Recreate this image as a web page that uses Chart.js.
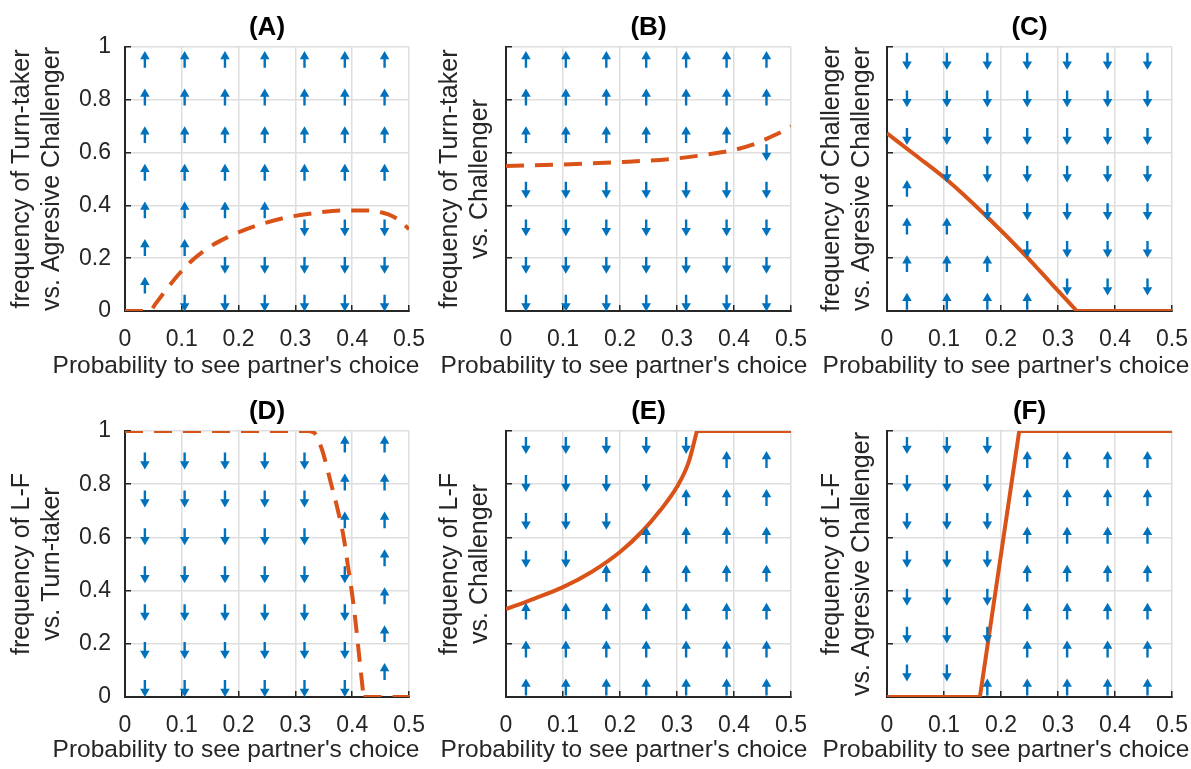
<!DOCTYPE html>
<html>
<head>
<meta charset="utf-8">
<script src="https://cdn.jsdelivr.net/npm/chart.js@4.4.1/dist/chart.umd.min.js"></script>
<style>
  html, body { margin: 0; padding: 0; background: #fff; }
  body { position: relative; width: 1191px; height: 769px; overflow: hidden; }
  canvas { position: absolute; }
</style>
</head>
<body>
<canvas id="cA"></canvas>
<canvas id="cB"></canvas>
<canvas id="cC"></canvas>
<canvas id="cD"></canvas>
<canvas id="cE"></canvas>
<canvas id="cF"></canvas>
<script>
// quiver grid (x = probability, y = frequency), rows listed top to bottom
const arrowCols = [0.035, 0.105, 0.176, 0.246, 0.316, 0.387, 0.457];
const arrowRows = [0.919, 0.7765, 0.634, 0.4915, 0.349, 0.2065, 0.064];

// arrow directions per panel: u = up, d = down (row by row, top first)
const dirsA = ['uuuuuuu', 'uuuuuuu', 'uuuuuuu', 'uuuuuuu', 'uuuuddd', 'uuddddd', 'udddddd'];
const dirsB = ['uuuuuuu', 'uuuuuuu', 'uuuuuud', 'ddddddd', 'ddddddd', 'ddddddd', 'ddddddd'];
const dirsC = ['ddddddd', 'ddddddd', 'ddddddd', 'udddddd', 'uuddddd', 'uuudddd', 'uuuuddd'];
const dirsD = ['ddddduu', 'ddddduu', 'ddddduu', 'ddddddu', 'ddddddu', 'ddddddu', 'ddddddu'];
const dirsE = ['ddddduu', 'dddduuu', 'ddduuuu', 'dduuuuu', 'uuuuuuu', 'uuuuuuu', 'uuuuuuu'];
const dirsF = ['ddduuuu', 'ddduuuu', 'ddduuuu', 'ddduuuu', 'ddduuuu', 'ddduuuu', 'dduuuuu'];

// equilibrium curves
const curveAx = [0, 0.044, 0.053, 0.073, 0.097, 0.12, 0.147, 0.179, 0.214, 0.249, 0.284, 0.337, 0.384, 0.425, 0.454, 0.472, 0.486, 0.5];
const curveAy = [0, 0, 0.025, 0.082, 0.145, 0.195, 0.24, 0.278, 0.31, 0.335, 0.354, 0.372, 0.381, 0.381, 0.372, 0.358, 0.338, 0.31];
const curveBx = [0, 0.1, 0.2, 0.3, 0.35, 0.4, 0.43, 0.46, 0.48, 0.5];
const curveBy = [0.549, 0.555, 0.564, 0.578, 0.592, 0.61, 0.628, 0.655, 0.675, 0.7];
const curveCx = [0, 0.05, 0.104, 0.174, 0.244, 0.29, 0.333, 0.5];
const curveCy = [0.673, 0.59, 0.499, 0.36, 0.208, 0.1, 0, 0];
const curveDx = [0, 0.32, 0.332, 0.346, 0.363, 0.375, 0.385, 0.392, 0.399, 0.405, 0.41, 0.415, 0.42, 0.5];
const curveDy = [1, 1, 0.995, 0.935, 0.8, 0.7, 0.6, 0.5, 0.4, 0.3, 0.2, 0.1, 0, 0];
const curveEx = [0, 0.05, 0.1, 0.15, 0.2, 0.24, 0.27, 0.3, 0.32, 0.335, 0.5];
const curveEy = [0.33, 0.37, 0.413, 0.47, 0.545, 0.625, 0.7, 0.79, 0.88, 1, 1];
const curveFx = [0, 0.163, 0.232, 0.5];
const curveFy = [0, 0, 1, 1];

const xTickStep = 0.1;
const yTickStep = 0.2;

const titles = ['(A)', '(B)', '(C)', '(D)', '(E)', '(F)'];
const yLabels = [
  ['frequency of Turn-taker', 'vs. Agresive Challenger'],
  ['frequency of Turn-taker', 'vs. Challenger'],
  ['frequency of Challenger', 'vs. Agresive Challenger'],
  ['frequency of L-F', 'vs. Turn-taker'],
  ['frequency of L-F', 'vs. Challenger'],
  ['frequency of L-F', 'vs. Agresive Challenger']
];
const xLabel = "Probability to see partner's choice";

Chart.defaults.font.family = '"Liberation Sans", Arial, Helvetica, sans-serif';
Chart.defaults.color = '#262626';

const BLUE = '#0072BD';
const ORANGE = '#D95319';
const AXIS = '#262626';
const GRID = '#dedede';
const SHAFT = 0.043;    // shaft length in y units
const HALF = 0.032;     // half the drawn arrow length
const LABEL_MID = 366.5;

// tail -> head pairs, separated by a gap point
function arrowPoints(dirs, shift) {
  const pts = [];
  dirs.forEach((row, r) => {
    for (let c = 0; c < row.length; c++) {
      const d = row[c] === 'u' ? 1 : -1;
      const tail = arrowRows[r] + d * shift - d * HALF;
      pts.push({ x: arrowCols[c], y: tail });
      pts.push({ x: arrowCols[c], y: tail + d * SHAFT, rot: d > 0 ? 0 : 180 });
      pts.push({ x: arrowCols[c], y: null });
    }
  });
  return pts;
}

// index where the trailing flat part of a curve begins
function plateauStart(ys) {
  let k = ys.length - 1;
  while (k > 0 && ys[k - 1] === ys[ys.length - 1]) k--;
  return k;
}

const panels = [
  { id: 'cA', dirs: dirsA, cx: curveAx, cy: curveAy, dash: true,  smooth: true,  shift: 0.034,  left: 0,   top: 0,   w: 472, h: 384, area: [125, 47, 409, 311], yNums: true },
  { id: 'cB', dirs: dirsB, cx: curveBx, cy: curveBy, dash: true,  smooth: true,  shift: 0.034,  left: 428, top: 0,   w: 392, h: 384, area: [78, 47, 363, 311], yNums: false },
  { id: 'cC', dirs: dirsC, cx: curveCx, cy: curveCy, dash: false, smooth: true,  shift: -0.027, left: 810, top: 0,   w: 392, h: 384, area: [77, 47, 362, 311], yNums: false },
  { id: 'cD', dirs: dirsD, cx: curveDx, cy: curveDy, dash: true,  smooth: true,  shift: 0.032,  left: 0,   top: 384, w: 472, h: 385, area: [125, 47, 409, 313], yNums: true },
  { id: 'cE', dirs: dirsE, cx: curveEx, cy: curveEy, dash: false, smooth: true,  shift: -0.026, left: 428, top: 384, w: 392, h: 385, area: [78, 47, 363, 313], yNums: false },
  { id: 'cF', dirs: dirsF, cx: curveFx, cy: curveFy, dash: false, smooth: false, shift: -0.026, left: 810, top: 384, w: 392, h: 385, area: [77, 47, 362, 313], yNums: false }
];

panels.forEach((p, i) => {
  const cv = document.getElementById(p.id);
  cv.width = p.w;
  cv.height = p.h;
  cv.style.left = p.left + 'px';
  cv.style.top = p.top + 'px';

  const titleLH = 26 * 1.2;
  const labelLH = 24.5 * 1.2;
  const subPadBottom = p.h - LABEL_MID - labelLH / 2;
  const xAxisH = p.h - labelLH - subPadBottom - p.area[3];

  const gridOpts = { color: GRID, lineWidth: 1.5, tickLength: -6, tickColor: AXIS, tickWidth: 1.5 };
  const borderOpts = { color: AXIS, width: 2 };

  const pts = p.cx.map((x, k) => ({ x: x, y: p.cy[k] }));
  const k0 = plateauStart(p.cy);
  const curveStyle = {
    showLine: true,
    borderColor: ORANGE,
    borderWidth: 4,
    borderDash: p.dash ? [18, 11] : [],
    pointRadius: 0
  };

  new Chart(cv, {
    type: 'scatter',
    data: {
      datasets: [
        {
          data: arrowPoints(p.dirs, p.shift),
          showLine: true,
          borderColor: BLUE,
          borderWidth: 2.4,
          pointStyle: 'triangle',
          pointRadius: c => (c.raw && c.raw.rot !== undefined ? 5.5 : 0),
          rotation: c => (c.raw && c.raw.rot) || 0,
          pointBackgroundColor: BLUE,
          pointBorderWidth: 0
        },
        Object.assign({
          data: pts.slice(0, k0 + 1),
          cubicInterpolationMode: p.smooth ? 'monotone' : 'default',
          tension: 0
        }, curveStyle),
        Object.assign({
          data: pts.slice(k0),
          tension: 0
        }, curveStyle)
      ]
    },
    options: {
      responsive: false,
      maintainAspectRatio: false,
      devicePixelRatio: 1,
      animation: false,
      events: [],
      layout: { padding: 0 },
      plugins: {
        legend: { display: false },
        tooltip: { enabled: false },
        title: {
          display: true,
          text: titles[i],
          fullSize: false,
          color: '#000',
          font: { size: 26, weight: 'bold' },
          padding: { top: 12.4, bottom: p.area[1] - 12.4 - titleLH }
        },
        subtitle: {
          display: true,
          text: xLabel,
          position: 'bottom',
          fullSize: true,
          color: AXIS,
          font: { size: 24.5, weight: 'normal' },
          padding: { top: 0, bottom: subPadBottom }
        }
      },
      scales: {
        x: {
          type: 'linear',
          min: 0,
          max: 0.5,
          ticks: {
            stepSize: xTickStep, font: { size: 23 }, color: AXIS, padding: 21, maxRotation: 0, autoSkip: false,
            callback: v => String(Number(v.toFixed(2)))
          },
          grid: gridOpts,
          border: borderOpts,
          afterFit: s => { s.height = xAxisH; s.paddingLeft = 0; s.paddingRight = 0; }
        },
        y: {
          type: 'linear',
          min: 0,
          max: 1,
          ticks: {
            stepSize: yTickStep, display: p.yNums, font: { size: 23 }, color: AXIS, padding: 20,
            callback: v => String(Number(v.toFixed(2)))
          },
          grid: gridOpts,
          border: borderOpts,
          title: { display: true, text: yLabels[i], color: AXIS, font: { size: 25 }, padding: { top: 7.5, bottom: 0 } },
          afterFit: s => { s.width = p.area[0]; s.paddingTop = 0; s.paddingBottom = 0; }
        },
        pad: {
          type: 'linear',
          position: 'right',
          display: true,
          grid: { display: false },
          border: { display: false },
          ticks: { display: false },
          afterFit: s => { s.width = p.w - p.area[2]; s.paddingTop = 0; s.paddingBottom = 0; }
        }
      }
    }
  });
});
</script>
</body>
</html>
